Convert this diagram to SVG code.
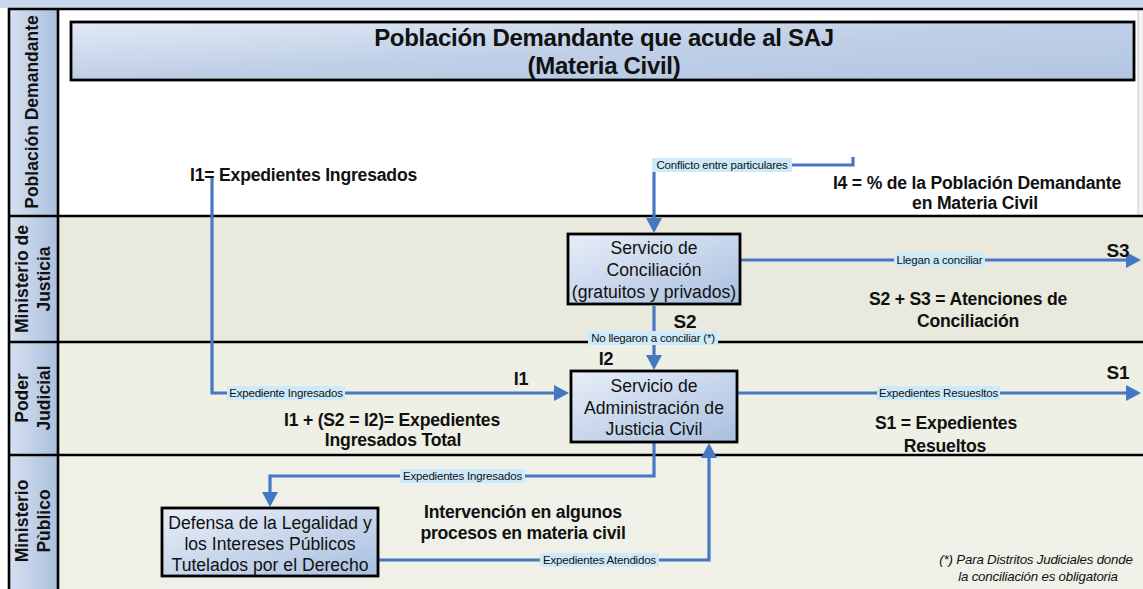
<svg xmlns="http://www.w3.org/2000/svg" width="1143" height="589" viewBox="0 0 1143 589">
<style>
.lh{font-family:"Liberation Sans",Arial,sans-serif;font-weight:bold;font-size:17.5px;fill:#111;text-anchor:middle}
.b{font-family:"Liberation Sans",Arial,sans-serif;font-weight:bold;font-size:17.6px;fill:#111;text-anchor:middle;letter-spacing:-0.2px}
.t{font-family:"Liberation Sans",Arial,sans-serif;font-weight:bold;font-size:24px;fill:#111;text-anchor:middle;letter-spacing:-0.3px}
.n{font-family:"Liberation Sans",Arial,sans-serif;font-size:17.6px;fill:#111;text-anchor:middle}
.cl{font-family:"Liberation Sans",Arial,sans-serif;font-size:11.5px;fill:#111;text-anchor:middle;letter-spacing:-0.2px}
.fn{font-family:"Liberation Sans",Arial,sans-serif;font-style:italic;font-size:13.3px;fill:#111;text-anchor:middle;letter-spacing:-0.2px}
.lb{fill:#cdeafb}
.c{fill:none;stroke:#4677c3;stroke-width:3.2}
.arr{marker-end:url(#ah)}
.box{fill:url(#ng);stroke:#000;stroke-width:2.8}
.ln{stroke:#000;stroke-width:2.6}
</style>
<defs>
<linearGradient id="ng" x1="0" y1="0" x2="1" y2="1">
<stop offset="0" stop-color="#e8eef8"/>
<stop offset="1" stop-color="#a9bfdf"/>
</linearGradient>
<linearGradient id="hg" x1="0" y1="0" x2="1" y2="0">
<stop offset="0" stop-color="#d6e1f0"/>
<stop offset="1" stop-color="#abbfdd"/>
</linearGradient>
<linearGradient id="bg" x1="0" y1="0" x2="1" y2="1">
<stop offset="0" stop-color="#e2e9f4"/>
<stop offset="0.5" stop-color="#bfcfe7"/>
<stop offset="1" stop-color="#b2c6e2"/>
</linearGradient>
<marker id="ah" markerUnits="userSpaceOnUse" markerWidth="17" markerHeight="17" viewBox="0 0 17 17" refX="8" refY="8.5" orient="auto">
<path d="M0,0.5 L15,8.5 L0,16.5 z" fill="#4677c3"/>
</marker>
</defs>

<!-- swimlane backgrounds -->
<g id="lanes">
<rect x="0" y="0" width="1143" height="8" fill="#c9d7ec"/>
<rect x="58" y="9" width="1080" height="207" fill="#ffffff"/>
<rect x="1138" y="9" width="5" height="207" fill="#f2f2f2"/>
<rect x="58" y="216" width="1085" height="126" fill="#e9e9de"/>
<rect x="58" y="342" width="1085" height="113" fill="#eeefe5"/>
<rect x="58" y="455" width="1085" height="134" fill="#eff0e7"/>
<rect x="9" y="9" width="49" height="580" fill="url(#hg)"/>
<line x1="1138" y1="9" x2="1138" y2="216" stroke="#c8c8c8" stroke-width="1"/>
<line class="ln" x1="8" y1="9" x2="1143" y2="9"/>
<line class="ln" x1="8" y1="216" x2="1143" y2="216"/>
<line class="ln" x1="8" y1="342" x2="1143" y2="342"/>
<line class="ln" x1="8" y1="455" x2="1143" y2="455"/>
<line class="ln" x1="9" y1="8" x2="9" y2="589"/>
<line class="ln" x1="58" y1="8" x2="58" y2="589"/>
<text class="lh" transform="translate(38,112) rotate(-90)">Población Demandante</text>
<text class="lh" transform="translate(28,279) rotate(-90)">Ministerio de</text>
<text class="lh" transform="translate(50,279) rotate(-90)">Justicia</text>
<text class="lh" transform="translate(28,398) rotate(-90)">Poder</text>
<text class="lh" transform="translate(50,398) rotate(-90)">Judicial</text>
<text class="lh" transform="translate(28,521) rotate(-90)">Ministerio</text>
<text class="lh" transform="translate(50,521) rotate(-90)">Pùblico</text>
</g>

<!-- heading banner -->
<g id="banner">
<rect x="71" y="22" width="1063" height="58" fill="url(#bg)" stroke="#000" stroke-width="2.8"/>
<text class="t" x="604" y="46">Población Demandante que acude al SAJ</text>
<text class="t" x="604" y="74">(Materia Civil)</text>
</g>

<!-- connectors -->
<g id="connectors">
<path class="c arr" d="M212,178 V393 H562"/>
<path class="c arr" d="M853,157 V165 H654 V226"/>
<path class="c arr" d="M740,260 H1134"/>
<path class="c arr" d="M654,306 V363"/>
<path class="c arr" d="M737,393 H1134"/>
<path class="c arr" d="M654,442 V476 H270 V500"/>
<path class="c arr" d="M378,560 H709 V450"/>

<rect class="lb" x="227" y="386" width="118" height="14"/>
<text class="cl" x="286" y="397">Expediente Ingresados</text>
<rect class="lb" x="652" y="158" width="140" height="14"/>
<text class="cl" x="722" y="169">Conflicto entre particulares</text>
<rect class="lb" x="894" y="253" width="91" height="14"/>
<text class="cl" x="939.5" y="264">Llegan a conciliar</text>
<rect class="lb" x="588" y="331" width="130" height="14"/>
<text class="cl" x="653" y="342">No llegaron a conciliar (*)</text>
<rect class="lb" x="877" y="386" width="123" height="14"/>
<text class="cl" x="938.5" y="397">Expedientes Resuesltos</text>
<rect class="lb" x="400" y="469" width="125" height="14"/>
<text class="cl" x="462.5" y="480">Expedientes Ingresados</text>
<rect class="lb" x="540" y="553" width="119" height="14"/>
<text class="cl" x="599.5" y="564">Expedientes Atendidos</text>
</g>

<!-- process nodes -->
<g id="conciliacion">
<rect class="box" x="568" y="234" width="172" height="70"/>
<text class="n" x="654" y="254">Servicio de</text>
<text class="n" x="654" y="276">Conciliación</text>
<text class="n" x="654" y="298">(gratuitos y privados)</text>
</g>
<g id="justicia-civil">
<rect class="box" x="571" y="371" width="166" height="71"/>
<text class="n" x="654" y="392">Servicio de</text>
<text class="n" x="654" y="414">Administración de</text>
<text class="n" x="654" y="435">Justicia Civil</text>
</g>
<g id="defensa">
<rect class="box" x="162" y="508" width="216" height="68"/>
<text class="n" x="270" y="529">Defensa de la Legalidad y</text>
<text class="n" x="270" y="550">los Intereses Públicos</text>
<text class="n" x="270" y="571">Tutelados por el Derecho</text>
</g>

<!-- indicator annotations -->
<g id="indicators">
<text class="b" x="190" y="181" style="text-anchor:start">I1= Expedientes Ingresados</text>
<text class="b" x="977" y="189">I4 = % de la Población Demandante</text>
<text class="b" x="975" y="209">en Materia Civil</text>
<text class="b" x="1118" y="257" style="font-size:19px">S3</text>
<text class="b" x="968" y="305">S2 + S3 = Atenciones de</text>
<text class="b" x="968" y="327">Conciliación</text>
<text class="b" x="685" y="328" style="font-size:19px">S2</text>
<text class="b" x="606" y="365" style="font-size:18px">I2</text>
<text class="b" x="521" y="385" style="font-size:18px">I1</text>
<text class="b" x="1118" y="379" style="font-size:19px">S1</text>
<text class="b" x="392" y="426">I1 + (S2 = I2)= Expedientes</text>
<text class="b" x="393" y="446">Ingresados Total</text>
<text class="b" x="946" y="429">S1 = Expedientes</text>
<text class="b" x="945" y="452">Resueltos</text>
<text class="b" x="523" y="518">Intervención en algunos</text>
<text class="b" x="523" y="539">procesos en materia civil</text>
<text class="fn" x="1036" y="564">(*) Para Distritos Judiciales donde</text>
<text class="fn" x="1038" y="581">la conciliación es obligatoria</text>
</g>
</svg>
